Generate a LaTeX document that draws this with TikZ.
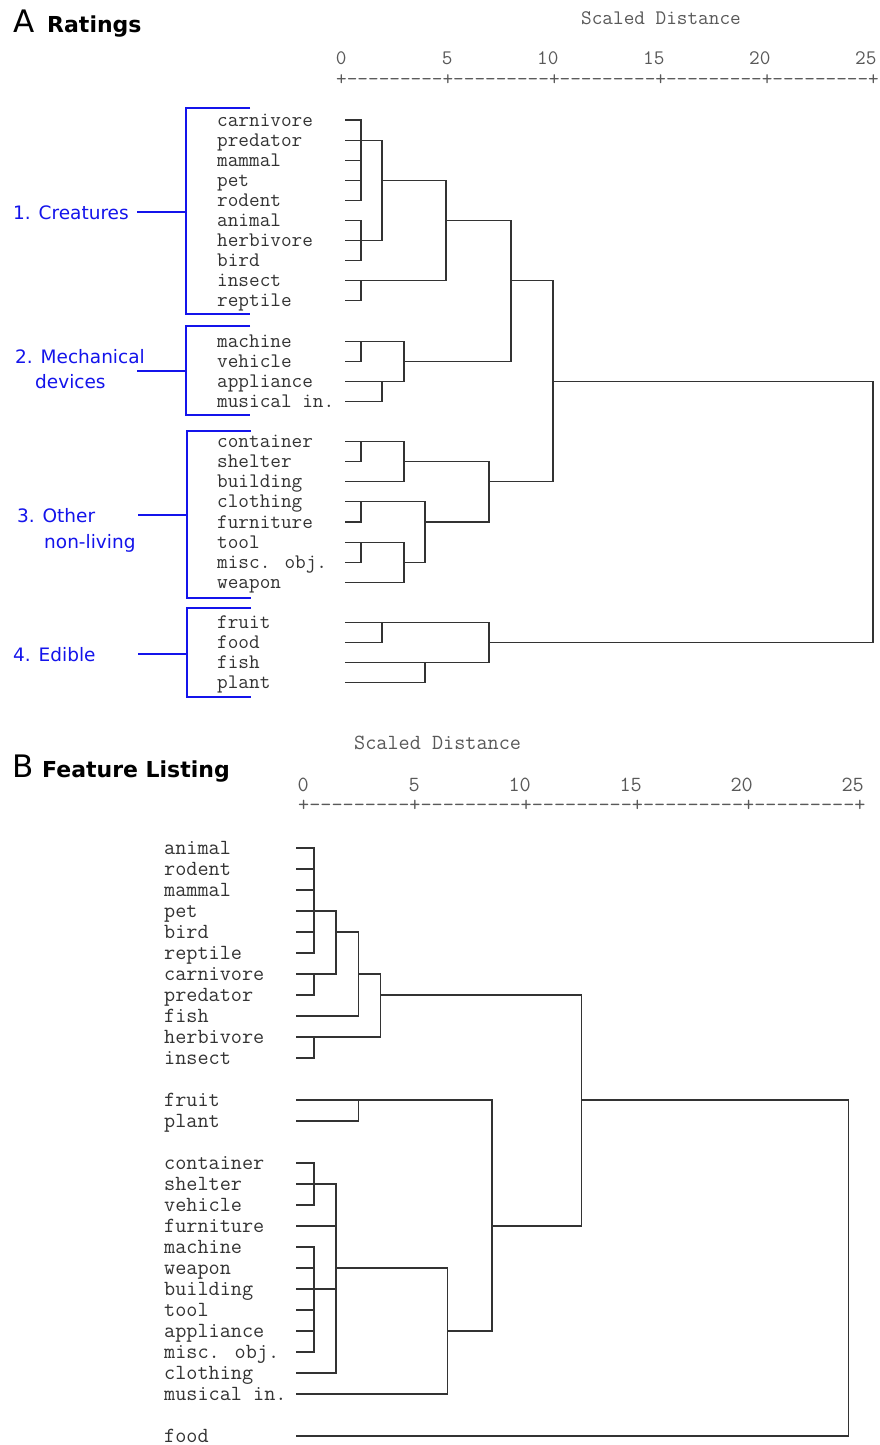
\documentclass[tikz,border=0pt]{standalone}
\usepackage{fontspec}
\setmainfont{DejaVu Sans}
\newfontfamily\lmtt{Latin Modern Mono}
\def\dsh{-\kern0pt}
\def\segm{+\dsh\dsh\dsh\dsh\dsh\dsh\dsh\dsh\dsh}
\def\axisstr{\segm\segm\segm\segm\segm+}
\definecolor{grpblue}{RGB}{20,20,235}
\begin{document}
\begin{tikzpicture}[x=1pt,y=-1pt,
  dline/.style={draw=black!80, line width=1.1pt, line cap=rect},
  bline/.style={draw=grpblue, line width=1.4pt},
  monoA/.style={inner sep=0pt, font=\lmtt\fontsize{20.66}{24}\selectfont},
  monoB/.style={inner sep=0pt, font=\lmtt\fontsize{21.6}{25}\selectfont},
  leafA/.style={monoA, anchor=base west, text=black!80, yshift=-6pt},
  leafB/.style={monoB, anchor=base west, text=black!80, yshift=-6.2pt},
  axtextA/.style={monoA, text=black!65},
  axtextB/.style={monoB, text=black!65},
  grp/.style={anchor=base west, inner sep=0pt, text=grpblue, font=\fontsize{18.5}{22}\selectfont},
  panel/.style={anchor=base west, inner sep=0pt, font=\fontsize{31}{36}\selectfont},
  ptitle/.style={anchor=base west, inner sep=0pt, font=\bfseries\fontsize{22}{27}\selectfont}
]
\useasboundingbox (0,0) rectangle (880,1445);
\fill[white] (0,0) rectangle (880,1445);

% ================= Panel A =================
\node[panel] (Aletter) at (13,33) {A};
\node[ptitle] (Atitle) at (47,33) {Ratings};
\node[axtextA, anchor=base west] (Ascaled) at (581,25) {Scaled Distance};
\foreach \k/\t in {0/0,1/5,2/10,3/15,4/20,5/25}
  \node[axtextA, anchor=base east] (Anum\k) at ({346.6+106*\k},64) {\t};
\node[axtextA, anchor=base west] (Aaxis) at (336,85) {\axisstr};

% group brackets
\draw[bline] (250,108) -- (186,108) -- (186,314) -- (250,314);
\draw[bline] (137,212) -- (186,212);
\draw[bline] (250,326) -- (186,326) -- (186,415) -- (250,415);
\draw[bline] (137,371) -- (186,371);
\draw[bline] (251,431) -- (187,431) -- (187,598) -- (251,598);
\draw[bline] (138,515) -- (187,515);
\draw[bline] (251,608) -- (187,608) -- (187,697) -- (251,697);
\draw[bline] (138,654) -- (187,654);
\node[grp] (g1) at (13,219) {1. Creatures};
\node[grp] (g2a) at (15,363) {2. Mechanical};
\node[grp] (g2b) at (35,388) {devices};
\node[grp] (g3a) at (17,522.5) {3. Other};
\node[grp] (g3b) at (44,548) {non-living};
\node[grp] (g4) at (13,661.5) {4. Edible};

\begin{scope}[y=-20.1pt, shift={(0pt,-120pt)}]
  \foreach \r/\n in {0/carnivore,1/predator,2/mammal,3/pet,4/rodent,5/animal,
      6/herbivore,7/bird,8/insect,9/reptile,11/machine,12/vehicle,13/appliance,
      14/musical in.,16/container,17/shelter,18/building,19/clothing,20/furniture,
      21/tool,22/misc. obj.,23/weapon,25/fruit,26/food,27/fish,28/plant}
    \node[leafA] (A\r) at (217,\r) {\n};
  % leaf stubs
  \foreach \r/\x in {0/361,1/361,2/361,3/361,4/361,5/361,6/361,7/361,8/361,9/361,
      11/361,12/361,13/382,14/382,16/361,17/361,18/404,19/361,20/361,21/361,
      22/361,23/404,25/382,26/382,27/425,28/425}
    \draw[dline] (346,\r) -- (\x,\r);
  % verticals
  \foreach \x/\a/\b in {361/0/4,361/5/7,382/1/6,361/8/9,446/3/8,511/5/12,
      361/11/12,382/13/14,404/11/13,553/8/18,361/16/17,404/16/18,361/19/20,
      361/21/22,404/21/23,425/19/22,489/17/20,382/25/26,425/27/28,489/25/27,873/13/26}
    \draw[dline] (\x,\a) -- (\x,\b);
  % horizontals
  \foreach \r/\a/\b in {1/361/382,6/361/382,3/382/446,8/361/446,5/446/511,
      11/361/404,13/382/404,12/404/511,8/511/553,16/361/404,17/404/489,
      19/361/425,21/361/404,22/404/425,20/425/489,18/489/553,13/553/873,
      25/382/489,27/425/489,26/489/873}
    \draw[dline] (\a,\r) -- (\b,\r);
\end{scope}

% ================= Panel B =================
\node[panel] (Bletter) at (12,777) {B};
\node[ptitle] (Btitle) at (42,777) {Feature Listing};
\node[axtextB, anchor=base west] (Bscaled) at (354,749) {Scaled Distance};
\foreach \k/\t in {0/0,1/5,2/10,3/15,4/20,5/25}
  \node[axtextB, anchor=base east] (Bnum\k) at ({309.05+111*\k},791.5) {\t};
\node[axtextB, anchor=base west] (Baxis) at (298,811.3) {\axisstr};

\begin{scope}[y=-21pt, shift={(0pt,-848pt)}]
  \foreach \r/\n in {0/animal,1/rodent,2/mammal,3/pet,4/bird,5/reptile,
      6/carnivore,7/predator,8/fish,9/herbivore,10/insect,12/fruit,13/plant,
      15/container,16/shelter,17/vehicle,18/furniture,19/machine,20/weapon,
      21/building,22/tool,23/appliance,24/misc. obj.,25/clothing,26/musical in.,28/food}
    \node[leafB] (B\r) at (164,\r) {\n};
  \foreach \r/\x in {0/314,1/314,2/314,3/314,4/314,5/314,6/314,7/314,8/358.7,
      9/314,10/314,12/358.7,13/358.7,15/314,16/314,17/314,18/336,19/314,20/314,
      21/314,22/314,23/314,24/314,25/336,26/447.3,28/848.7}
    \draw[dline] (297,\r) -- (\x,\r);
  \foreach \x/\a/\b in {314/0/5,314/6/7,336/3/6,358.7/4/8,314/9/10,380.7/6/9,
      581.3/7/18,358.7/12/13,492/12/23,314/15/17,314/19/24,336/16/25,
      447.3/20/26,848.7/12/28}
    \draw[dline] (\x,\a) -- (\x,\b);
  \foreach \r/\a/\b in {3/314/336,6/314/336,4/336/358.7,6/358.7/380.7,
      9/314/380.7,7/380.7/581.3,12/358.7/492,16/314/336,21/314/336,
      20/336/447.3,23/447.3/492,18/492/581.3,12/581.3/848.7}
    \draw[dline] (\a,\r) -- (\b,\r);
\end{scope}
\end{tikzpicture}
\end{document}
